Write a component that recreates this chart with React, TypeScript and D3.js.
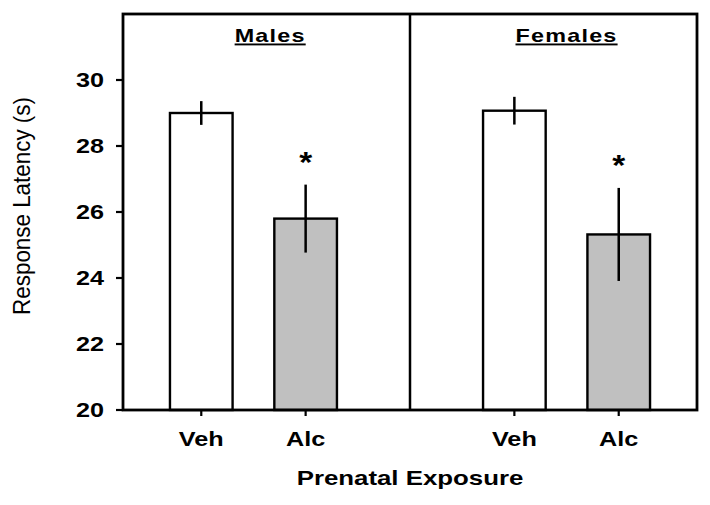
import React from "react";
import * as d3 from "d3";

const groups = ["Males", "Females"];
const conditions = ["Veh", "Alc"];
const means = [
  [29.0, 25.8],
  [29.07, 25.32],
];
const errors = [
  [0.36, 1.03],
  [0.42, 1.41],
];
const significant = [
  [false, true],
  [false, true],
];
const yTicks = [20, 22, 24, 26, 28, 30];
const yTitle = "Response Latency (s)";
const xTitle = "Prenatal Exposure";

const W = 710;
const H = 505;
const M = { left: 123, right: 697, top: 14, bottom: 410 };
const FONT = "'Liberation Sans', Arial, sans-serif";
const SX = 1.23;

function SText({ x, y, size, children, anchor = "middle", weight = "bold", sx = SX, sy = 1, rotate = 0, deco, ls }: any) {
  return (
    <text
      transform={`translate(${x},${y}) rotate(${rotate}) scale(${sx},${sy})`}
      fontFamily={FONT}
      fontSize={size}
      fontWeight={weight}
      textAnchor={anchor}
      textDecoration={deco}
      letterSpacing={ls}
      fill="#000"
    >
      {children}
    </text>
  );
}

export default function App() {
  const x = d3.scaleLinear().domain([0, 5.5]).range([M.left, M.right]);
  const y = d3.scaleLinear().domain([20, 32]).range([M.bottom, M.top]);
  const barW = x(0.6) - x(0);
  const pos = (g: number, c: number) => g * 3 + c + 0.75;
  const titlePos = [1.41, 4.25];
  const divider = x(2.75);

  const bars: any[] = [];
  groups.forEach((g, gi) => {
    conditions.forEach((c, ci) => {
      bars.push({ g, c, gi, ci, m: means[gi][ci], e: errors[gi][ci], s: significant[gi][ci], cx: x(pos(gi, ci)) });
    });
  });

  return (
    <svg width={W} height={H} style={{ position: "absolute", left: 0, top: 0, background: "#fff" }}>
      {bars.map((b, i) => (
        <g key={i}>
          <rect
            x={b.cx - barW / 2}
            y={y(b.m)}
            width={barW}
            height={y(20) - y(b.m)}
            fill={b.ci === 0 ? "#ffffff" : "#c0c0c0"}
            stroke="#000"
            strokeWidth={2.4}
          />
          <line x1={b.cx} x2={b.cx} y1={y(b.m + b.e)} y2={y(b.m - b.e)} stroke="#000" strokeWidth={2.5} />
          {b.s && (
            <SText x={b.cx} y={y(b.m + b.e) - 13} size={29} sx={1.15}>
              *
            </SText>
          )}
          <line x1={b.cx} x2={b.cx} y1={M.bottom} y2={M.bottom + 6} stroke="#000" strokeWidth={2.2} />
          <SText x={b.cx} y={446} size={20.5}>
            {b.c}
          </SText>
        </g>
      ))}
      <rect
        x={M.left}
        y={M.top}
        width={M.right - M.left}
        height={M.bottom - M.top}
        fill="none"
        stroke="#000"
        strokeWidth={2.8}
      />
      <line x1={divider} x2={divider} y1={M.top} y2={M.bottom} stroke="#000" strokeWidth={2.5} />
      {yTicks.map((t) => (
        <g key={t}>
          <line x1={M.left - 7} x2={M.left} y1={y(t)} y2={y(t)} stroke="#000" strokeWidth={2.2} />
          <SText x={104} y={y(t) + 7.3} size={20.5} anchor="end">
            {t}
          </SText>
        </g>
      ))}
      {groups.map((g, gi) => (
        <SText key={g} x={x(titlePos[gi])} y={41.7} size={19} deco="underline" ls={1}>
          {g}
        </SText>
      ))}
      <SText x={410} y={485} size={21}>
        {xTitle}
      </SText>
      <SText x={29.5} y={206} size={20} weight="normal" rotate={-90} sx={1.12} sy={1.2}>
        {yTitle}
      </SText>
    </svg>
  );
}
